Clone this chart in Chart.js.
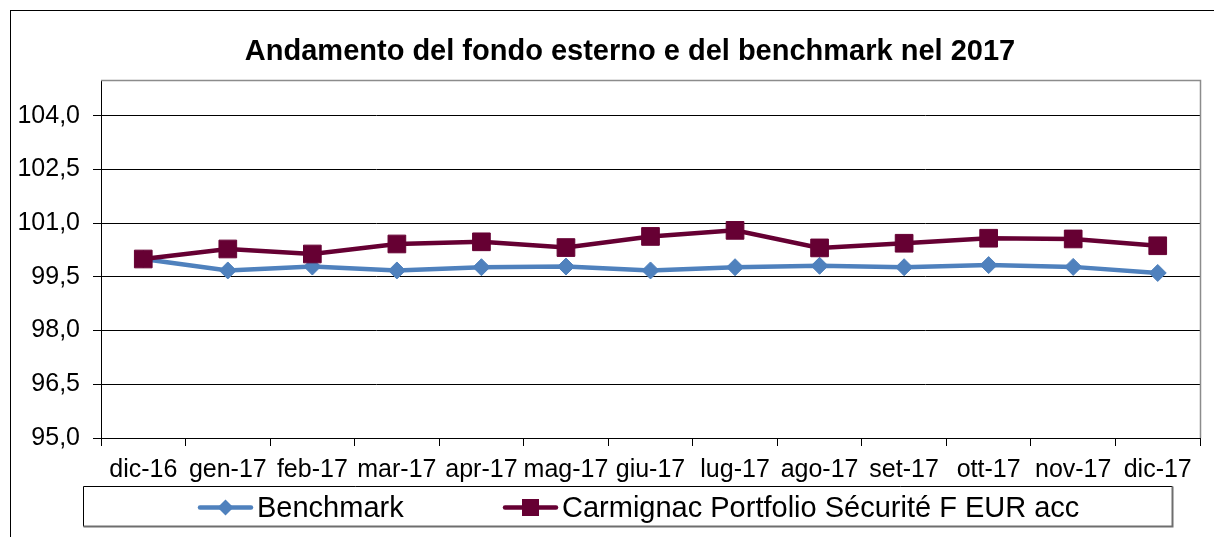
<!DOCTYPE html>
<html>
<head>
<meta charset="utf-8">
<script src="https://cdn.jsdelivr.net/npm/chart.js@4/dist/chart.umd.min.js"></script>
<style>
  html, body { margin: 0; padding: 0; background: #fff; }
  #wrap { width: 1214px; height: 537px; }
</style>
</head>
<body>
<div id="wrap"><canvas id="c" width="1214" height="537"></canvas></div>
<script>
const titleText = 'Andamento del fondo esterno e del benchmark nel 2017';
const categories = ['dic-16','gen-17','feb-17','mar-17','apr-17','mag-17','giu-17','lug-17','ago-17','set-17','ott-17','nov-17','dic-17'];
const benchmarkLabel = 'Benchmark';
const benchmarkValues = [100.0, 99.68, 99.79, 99.68, 99.77, 99.79, 99.68, 99.77, 99.81, 99.77, 99.83, 99.78, 99.61];
const fundLabel = 'Carmignac Portfolio Sécurité F EUR acc';
const fundValues = [100.0, 100.28, 100.14, 100.42, 100.48, 100.32, 100.63, 100.80, 100.31, 100.44, 100.58, 100.56, 100.37];
const yTickValues = [95, 96.5, 98, 99.5, 101, 102.5, 104];
const yMin = 95, yMax = 105;

const BLUE = '#4f81bd';
const RED = '#660033';
const FONT = '"Liberation Sans", Arial, sans-serif';

const framePlugin = {
  id: 'frame',
  beforeDraw(chart) {
    const ctx = chart.ctx;
    ctx.save();
    ctx.fillStyle = '#fff';
    ctx.fillRect(0, 0, chart.width, chart.height);
    ctx.strokeStyle = '#000';
    ctx.lineWidth = 1;
    ctx.strokeRect(10.5, 10.5, chart.width + 20, chart.height + 20);
    // title
    ctx.fillStyle = '#000';
    ctx.font = 'bold 29px ' + FONT;
    ctx.textAlign = 'center';
    ctx.textBaseline = 'alphabetic';
    ctx.fillText(titleText, 630, 59.5);
    ctx.restore();
  },
  afterDraw(chart) {
    const ctx = chart.ctx;
    const a = chart.chartArea;
    ctx.save();
    ctx.strokeStyle = '#8c8c8c';
    ctx.lineWidth = 1.5;
    ctx.beginPath();
    ctx.moveTo(a.left, Math.round(a.top) + 0.5);
    ctx.lineTo(Math.round(a.right) + 0.5, Math.round(a.top) + 0.5);
    ctx.lineTo(Math.round(a.right) + 0.5, a.bottom);
    ctx.stroke();

    // legend
    const bx = 83.5, by = 486.5, bw = 1089, bh = 40;
    ctx.fillStyle = '#fff';
    ctx.fillRect(bx, by, bw, bh);
    ctx.strokeStyle = '#000';
    ctx.lineWidth = 1;
    ctx.beginPath();
    ctx.moveTo(bx, by + bh); ctx.lineTo(bx, by); ctx.lineTo(bx + bw, by);
    ctx.stroke();
    ctx.strokeStyle = '#6e6e6e';
    ctx.lineWidth = 2;
    ctx.beginPath();
    ctx.moveTo(bx, by + bh); ctx.lineTo(bx + bw, by + bh); ctx.lineTo(bx + bw, by);
    ctx.stroke();

    const cy = 507.5;
    ctx.font = '29px ' + FONT;
    ctx.textBaseline = 'middle';
    ctx.textAlign = 'left';
    const items = [
      { x: 198, ds: chart.data.datasets[0], shape: 'diamond' },
      { x: 503, ds: chart.data.datasets[1], shape: 'square' }
    ];
    items.forEach(it => {
      const col = it.ds.borderColor;
      ctx.strokeStyle = col;
      ctx.lineWidth = 4.5;
      ctx.lineCap = 'round';
      ctx.beginPath();
      ctx.moveTo(it.x + 2, cy); ctx.lineTo(it.x + 53, cy);
      ctx.stroke();
      ctx.fillStyle = col;
      const mx = it.x + 27.5;
      ctx.beginPath();
      if (it.shape === 'diamond') {
        ctx.moveTo(mx, cy - 8); ctx.lineTo(mx + 8, cy); ctx.lineTo(mx, cy + 8); ctx.lineTo(mx - 8, cy);
        ctx.closePath();
      } else {
        ctx.rect(mx - 8.5, cy - 8.5, 17, 17);
      }
      ctx.fill();
      ctx.fillStyle = '#000';
      ctx.fillText(it.ds.label, it.x + 59, cy + 1);
    });
    ctx.restore();
  }
};

new Chart(document.getElementById('c'), {
  type: 'line',
  data: {
    labels: categories,
    datasets: [
      {
        label: benchmarkLabel,
        data: benchmarkValues,
        borderColor: BLUE,
        backgroundColor: BLUE,
        borderWidth: 4.5,
        pointStyle: 'rectRot',
        pointRadius: 8.5,
        pointHoverRadius: 8.5,
        pointBorderWidth: 1,
        pointBackgroundColor: BLUE,
        pointBorderColor: BLUE,
        tension: 0,
        order: 1
      },
      {
        label: fundLabel,
        data: fundValues,
        borderColor: RED,
        backgroundColor: RED,
        borderWidth: 4.5,
        pointStyle: 'rect',
        pointRadius: 12.5,
        pointHoverRadius: 12.5,
        pointBorderWidth: 1,
        pointBackgroundColor: RED,
        pointBorderColor: RED,
        tension: 0,
        order: 0
      }
    ]
  },
  options: {
    responsive: false,
    animation: false,
    events: [],
    layout: { padding: { left: 10, right: 14, top: 80, bottom: 49 } },
    plugins: {
      legend: { display: false },
      tooltip: { enabled: false },
      title: { display: false }
    },
    scales: {
      x: {
        type: 'category',
        offset: true,
        grid: { display: true, drawOnChartArea: false, offset: true, tickLength: 8, color: '#000', lineWidth: 1 },
        border: { display: true, color: '#000', width: 1 },
        ticks: { color: '#000', font: { family: FONT, size: 25 }, padding: 9, maxRotation: 0, autoSkip: false },
        afterFit(scale) { scale.height = 50; }
      },
      y: {
        min: yMin,
        max: yMax,
        afterBuildTicks(scale) { scale.ticks = yTickValues.map(v => ({ value: v })); },
        grid: { color: '#000', lineWidth: 1, tickLength: 8, tickColor: '#000' },
        border: { display: true, color: '#000', width: 1 },
        ticks: {
          color: '#000',
          font: { family: FONT, size: 25 },
          padding: 13,
          callback: v => Number(v).toFixed(1).replace('.', ',')
        },
        afterFit(scale) { scale.width = 91; }
      }
    }
  },
  plugins: [framePlugin]
});
</script>
</body>
</html>
